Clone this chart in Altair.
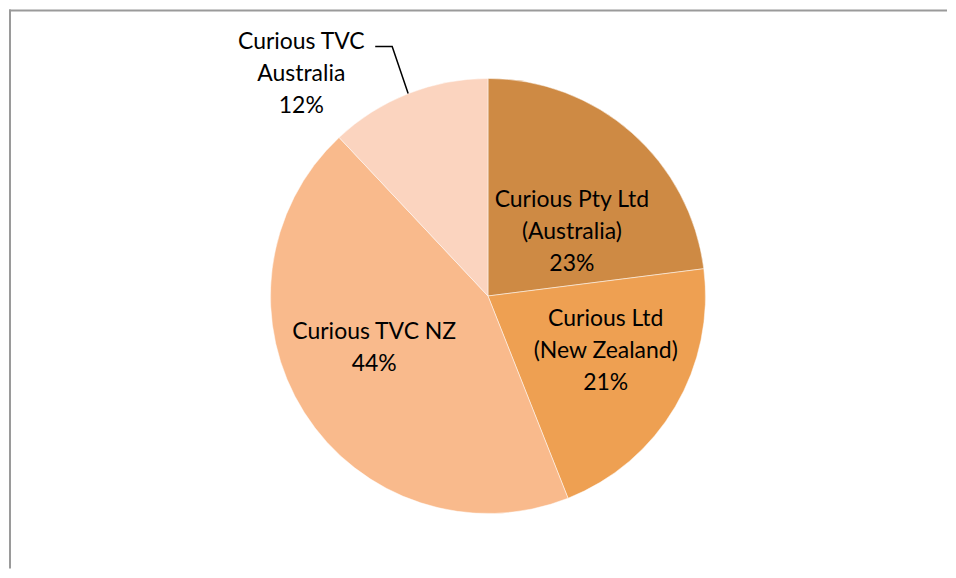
import altair as alt
import pandas as pd

# ---- data ----
categories = ["Curious Pty Ltd (Australia)", "Curious Ltd (New Zealand)",
              "Curious TVC NZ", "Curious TVC Australia"]
shares = [23, 21, 44, 12]
label_lines = [["Curious Pty Ltd", "(Australia)", "23%"],
               ["Curious Ltd", "(New Zealand)", "21%"],
               ["Curious TVC NZ", "44%"],
               ["Curious TVC", "Australia", "12%"]]
colors = ["#CE8A44", "#EEA052", "#F9BA8C", "#FBD4BF"]

# ---- layout ----
W, H = 940, 560
CX, CY = 480, 287
R = 218
FONT = "Lato"
FS = 23
# per-label placement of the first text line: (angle in degrees clockwise from top, radius)
placement = [(41.2, 127.6), (101.0, 120.2), (252.5, 119.5), (323.7, 316.0)]
DEG = 3.141592653589793 / 180

df = pd.DataFrame({"category": categories, "share": shares,
                   "order": list(range(len(categories)))})

pie = alt.Chart(df).mark_arc(outerRadius=R, stroke="white", strokeWidth=0.5).encode(
    theta=alt.Theta("share:Q", stack=True),
    order=alt.Order("order:Q"),
    color=alt.Color("category:N", scale=alt.Scale(domain=categories, range=colors), legend=None),
    x=alt.value(CX), y=alt.value(CY),
)

layers = [pie]
for i in range(len(categories)):
    ang, r = placement[i]
    layers.append(
        alt.Chart(pd.DataFrame({"t": [label_lines[i]]})).mark_text(
            font=FONT, fontSize=FS, color="#000000", align="center", baseline="middle",
            lineHeight=32, radius=r, theta=ang * DEG,
        ).encode(text="t:N", x=alt.value(CX), y=alt.value(CY))
    )

# leader line for the small slice
leader = pd.DataFrame({"px": [367, 384, 400], "py": [37, 37, 84], "k": [0, 1, 2]})
layers.append(
    alt.Chart(leader).mark_line(color="#000000", strokeWidth=1.5).encode(
        x=alt.X("px:Q", scale=alt.Scale(domain=[0, W], range=[0, W]), axis=None),
        y=alt.Y("py:Q", scale=alt.Scale(domain=[0, H], range=[0, H]), axis=None),
        order="k:Q",
    )
)

frame = pd.DataFrame({"a": [0]})
top = alt.Chart(frame).mark_rule(color="#9A9A9A", strokeWidth=2).encode(
    x=alt.value(0), x2=alt.value(W), y=alt.value(1))
left = alt.Chart(frame).mark_rule(color="#9A9A9A", strokeWidth=2).encode(
    x=alt.value(1), y=alt.value(0), y2=alt.value(H))
layers += [top, left]

chart = alt.layer(*layers).properties(width=W, height=H, padding=0).configure_view(
    stroke="transparent", strokeWidth=0).resolve_scale(x="shared", y="shared")

chart.save("out.html", embed_options={"renderer": "svg", "actions": False})
